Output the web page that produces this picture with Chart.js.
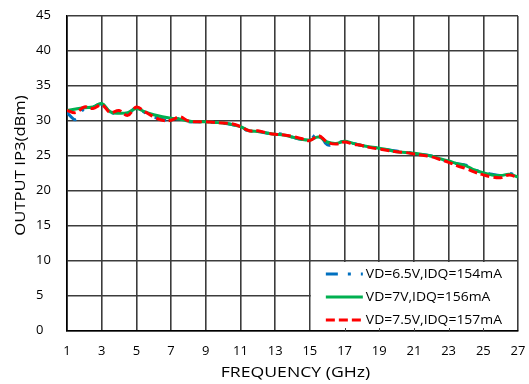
<!DOCTYPE html>
<html><head><meta charset="utf-8">
<script src="https://cdn.jsdelivr.net/npm/chart.js@4/dist/chart.umd.min.js"></script>
<style>html,body{margin:0;padding:0;background:#fff}#wrap{width:529px;height:384px;position:relative}</style>
</head><body><div id="wrap"><canvas id="c" width="529" height="384"></canvas></div>
<script>
const freqs = [1,1.5,2,2.5,3,3.5,4,4.5,5,5.5,6,6.5,7,7.5,8,8.5,9,9.5,10,10.5,11,11.5,12,12.5,13,13.5,14,14.5,15,15.5,16,16.5,17,17.5,18,18.5,19,19.5,20,20.5,21,21.5,22,22.5,23,23.5,24,24.5,25,25.5,26,26.5,27];
const vd65 = [31.2,30.2,31.8,32.0,32.4,31.3,31.0,31.0,31.9,31.2,30.6,30.2,30.2,30.3,29.9,29.9,29.8,29.8,29.7,29.5,29.2,28.5,28.5,28.3,28.2,28.1,27.7,27.4,27.4,28.2,26.6,26.8,27.1,26.8,26.5,26.3,26.1,25.9,25.7,25.5,25.4,25.2,25.0,24.6,24.2,23.9,23.7,23.0,22.7,22.4,22.2,22.5,22.0];
const vd7 = [31.5,31.7,31.9,32.0,32.5,31.3,31.1,31.2,31.8,31.3,30.9,30.6,30.4,30.3,30.0,29.9,29.9,29.8,29.7,29.5,29.2,28.6,28.5,28.3,28.1,28.0,27.7,27.4,27.3,27.7,27.0,26.8,27.1,26.8,26.5,26.3,26.1,25.9,25.6,25.5,25.4,25.2,25.0,24.6,24.3,23.9,23.6,23.0,22.6,22.3,22.2,22.4,22.0];
const vd75 = [31.5,31.2,32.0,31.8,32.3,31.2,31.5,30.8,32.0,31.3,30.6,30.1,30.1,30.6,30.0,29.9,29.9,29.8,29.7,29.6,29.2,28.6,28.6,28.3,28.1,28.0,27.8,27.5,27.2,27.9,27.0,26.7,27.0,26.7,26.5,26.2,26.0,25.8,25.6,25.5,25.3,25.1,24.9,24.5,24.1,23.6,23.2,22.7,22.3,22.0,21.9,22.3,21.9];
const seriesLabels = ['VD=6.5V,IDQ=154mA','VD=7V,IDQ=156mA','VD=7.5V,IDQ=157mA'];
const seriesColors = ['#0070C0','#00B050','#FF0000'];
const seriesDashes = [[12,10,3,10],[],[9,4]];
const xTickMin = 1, xTickMax = 27, xTickStep = 2;
const yTickMin = 0, yTickMax = 45, yTickStep = 5;
const xTitle = 'FREQUENCY (GHz)';
const yTitle = 'OUTPUT IP3(dBm)';
const legendBox = {xFrom: 15, xTo: 27, yFrom: 0, yTo: 10};

const FONT = "'Open Sans', sans-serif";

// horizontal text widening to match the reference's wide lettering
const TEXT_STYLE = {};
TEXT_STYLE[xTitle] = {sx: 1.26, dx: 3};
TEXT_STYLE[yTitle] = {sx: 1.19, dx: 8};
seriesLabels.forEach(l => { TEXT_STYLE[l] = {sx: 1.07, dx: 0}; });
const DEFAULT_TEXT = {sx: 1.08, dx: 0};
const origFill = CanvasRenderingContext2D.prototype.fillText;
CanvasRenderingContext2D.prototype.fillText = function (text, x, y, maxWidth) {
  const st = TEXT_STYLE[text] || DEFAULT_TEXT;
  this.save();
  this.translate(x, y);
  this.scale(st.sx, 1);
  origFill.call(this, text, st.dx / st.sx, 0);
  this.restore();
};

const toPts = vals => freqs.map((f, i) => ({x: f, y: vals[i]}));
const allSeries = [vd65, vd7, vd75];

const legendPlugin = {
  id: 'boxLegend',
  beforeDatasetsDraw(chart) {
    const {ctx, scales: {x, y}} = chart;
    const l = x.getPixelForValue(legendBox.xFrom), r = x.getPixelForValue(legendBox.xTo);
    const t = y.getPixelForValue(legendBox.yTo), b = y.getPixelForValue(legendBox.yFrom);
    ctx.save();
    ctx.fillStyle = '#fff';
    ctx.fillRect(l + 1, t + 1, r - l - 2, b - t - 2);
    ctx.strokeStyle = '#404040';
    ctx.lineWidth = 1;
    for (let v = legendBox.xFrom + xTickStep; v < legendBox.xTo; v += xTickStep) {
      const px = Math.round(x.getPixelForValue(v)) + 0.5;
      ctx.beginPath(); ctx.moveTo(px, b); ctx.lineTo(px, b - 3); ctx.stroke();
    }
    ctx.restore();
  },
  afterDraw(chart) {
    const {ctx, scales: {x, y}} = chart;
    const l = x.getPixelForValue(legendBox.xFrom);
    const t = y.getPixelForValue(legendBox.yTo);
    ctx.save();
    ctx.font = "13px " + FONT;
    ctx.textBaseline = 'middle';
    ctx.textAlign = 'left';
    seriesLabels.forEach((lab, i) => {
      const ry = t + 13 + i * 23;
      ctx.strokeStyle = seriesColors[i];
      ctx.lineWidth = 3;
      ctx.setLineDash(seriesDashes[i]);
      ctx.beginPath(); ctx.moveTo(l + 16, ry); ctx.lineTo(l + 53, ry); ctx.stroke();
      ctx.setLineDash([]);
      ctx.fillStyle = '#000';
      ctx.fillText(lab, l + 56, ry);
    });
    ctx.restore();
  }
};

const datasets = allSeries.map((vals, i) => ({
  label: seriesLabels[i],
  data: toPts(vals),
  borderColor: seriesColors[i],
  backgroundColor: seriesColors[i],
  borderWidth: 3,
  borderDash: seriesDashes[i],
  pointRadius: 0,
  tension: 0.4,
  fill: false,
  order: 2 - i
}));

new Chart(document.getElementById('c'), {
  type: 'line',
  data: {datasets},
  plugins: [legendPlugin],
  options: {
    responsive: false,
    animation: false,
    devicePixelRatio: 1,
    layout: {padding: {left: 36, top: 16, right: 11, bottom: 0}},
    plugins: {legend: {display: false}, tooltip: {enabled: false}},
    scales: {
      x: {
        type: 'linear', min: xTickMin, max: xTickMax,
        ticks: {stepSize: xTickStep, color: '#000', font: {family: FONT, size: 12}, padding: 13, maxRotation: 0},
        grid: {color: '#3c3c3c', lineWidth: 1.6, drawTicks: false},
        border: {color: '#000', width: 1.6},
        title: {display: true, text: xTitle, color: '#000', font: {family: FONT, size: 14}, padding: {top: 0, bottom: 3}},
        afterFit: s => { s.height = 53; s.paddingRight = 0; s.paddingLeft = 0; }
      },
      y: {
        min: yTickMin, max: yTickMax,
        ticks: {stepSize: yTickStep, color: '#000', font: {family: FONT, size: 12}, crossAlign: 'far', padding: 8},
        grid: {color: '#3c3c3c', lineWidth: 1.6, drawTicks: false},
        border: {color: '#000', width: 1.6},
        title: {display: true, text: yTitle, color: '#000', font: {family: FONT, size: 14}, padding: {top: -22.9, bottom: 0}},
        afterFit: s => { s.width = 31; s.paddingTop = 0; s.paddingBottom = 0; }
      }
    }
  }
});
</script></body></html>
